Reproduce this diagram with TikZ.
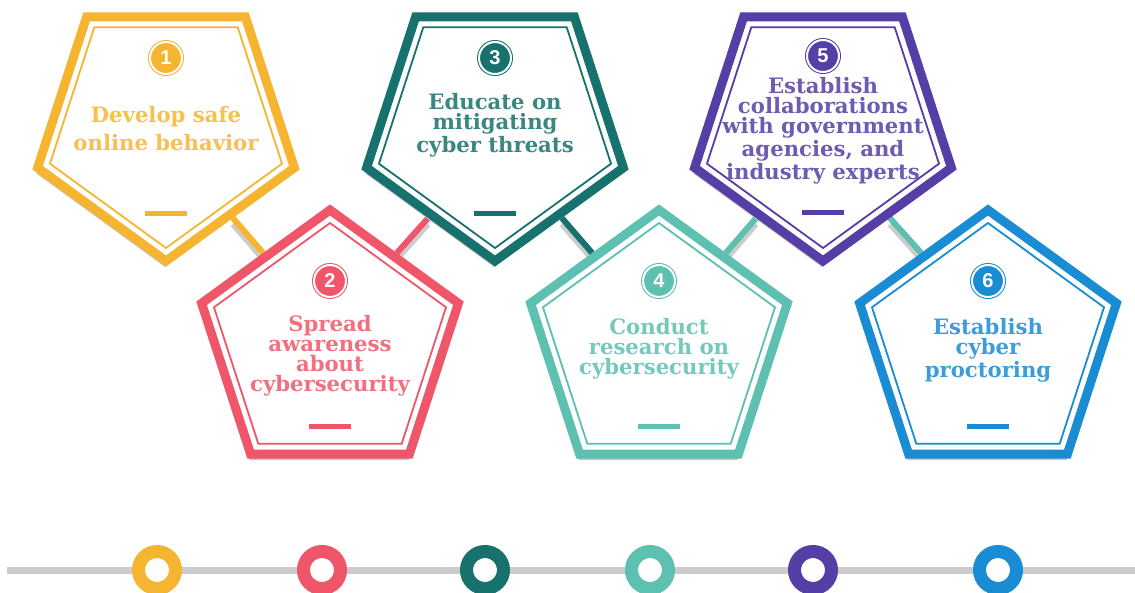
\documentclass[tikz,border=0pt]{standalone}
\usepackage{fontspec}
\setmainfont{DejaVu Serif}
\setsansfont{Liberation Sans}
\usetikzlibrary{shapes.geometric,shadows,backgrounds}
\definecolor{cyYellow}{HTML}{F5B530}
\definecolor{cyRed}{HTML}{F0566A}
\definecolor{cyDark}{HTML}{17716D}
\definecolor{cyTeal}{HTML}{5DC0B0}
\definecolor{cyPurple}{HTML}{553EA5}
\definecolor{cyBlue}{HTML}{1A8CD3}
\begin{document}
\begin{tikzpicture}[x=0.5pt,y=-0.5pt,line width=0.5pt,font=\bfseries\fontsize{10.6}{10}\selectfont,
	pent/.style={regular polygon,regular polygon sides=5,minimum size=135pt,inner sep=0pt,draw=#1,line width=4.5pt,fill=white,drop shadow={shadow xshift=-0.5pt,shadow yshift=-3pt,fill=black!22,opacity=1}},
	pentin/.style={regular polygon,regular polygon sides=5,minimum size=122pt,inner sep=0pt,draw=#1,line width=0.9pt},
	num/.style={circle,minimum size=16pt,inner sep=0pt,fill=#1,draw=#1,double=white,double distance=1pt,text=white,font=\sffamily\bfseries\fontsize{10}{10}\selectfont},
	bar/.style={fill=#1,minimum width=21pt,minimum height=2.5pt,inner sep=0pt},
	lbl/.style={align=center,anchor=north,inner sep=0pt,text=#1!85!white},
	link/.style={draw=#1,line width=3pt},
	track/.style={draw=black!20,line width=3.5pt},
	ring/.style={circle,minimum size=18.5pt,inner sep=0pt,draw=#1,line width=6.5pt,fill=white}]
	\useasboundingbox (0,0) rectangle (1135,593);
	\path (7,570) coordinate (L)
	(1135,570) coordinate (R);
	\foreach \i/\x/\y/\r/\ny/\by/\c in {1/166/126/180/58/214/cyYellow,2/330/345/0/281/426/cyRed,3/495/126/180/58/214/cyDark,4/659/345/0/281/426/cyTeal,5/823/126/180/56/213/cyPurple,6/988/345/0/281/426/cyBlue}{
		\node[pent=\c,shape border rotate=\r] (p\i) at (\x,\y) {};
		\node[pentin=\c,shape border rotate=\r] (q\i) at (\x,\y) {};
		\node[num=\c] (n\i) at (\x,\ny) {\i};
		\node[bar=\c] (d\i) at (\x,\by) {};
	}
	\begin{scope}[on background layer]
	\foreach \a/\b/\s/\c in {1/2/1/cyYellow,2/3/5/cyRed,3/4/1/cyDark,4/5/5/cyTeal,5/6/1/cyTeal}{
		\draw[link=black!20,transform canvas={yshift=-3pt}] (p\a.side \s) -- (p\b.side \s);
		\draw[link=\c] (p\a.side \s) -- (p\b.side \s);
	}
	\end{scope}
	\node[lbl=cyYellow] (t1) at (166,106) {Develop safe\\[2.5pt]online behavior};
	\node[lbl=cyRed] (t2) at (330,315) {Spread\\awareness\\about\\cybersecurity};
	\node[lbl=cyDark] (t3) at (495,93) {Educate on\\mitigating\\cyber threats};
	\node[lbl=cyTeal] (t4) at (659,318) {Conduct\\research on\\cybersecurity};
	\node[lbl=cyPurple] (t5) at (823,77) {Establish\\collaborations\\with government\\agencies, and\\industry experts};
	\node[lbl=cyBlue] (t6) at (988,318) {Establish\\cyber\\proctoring};
	\draw[track] (L) -- (R);
	\foreach \i/\x/\c in {1/157/cyYellow,2/322/cyRed,3/485/cyDark,4/650/cyTeal,5/813/cyPurple,6/998/cyBlue}
		\node[ring=\c] (c\i) at (\x,570) {};
\end{tikzpicture}
\end{document}
